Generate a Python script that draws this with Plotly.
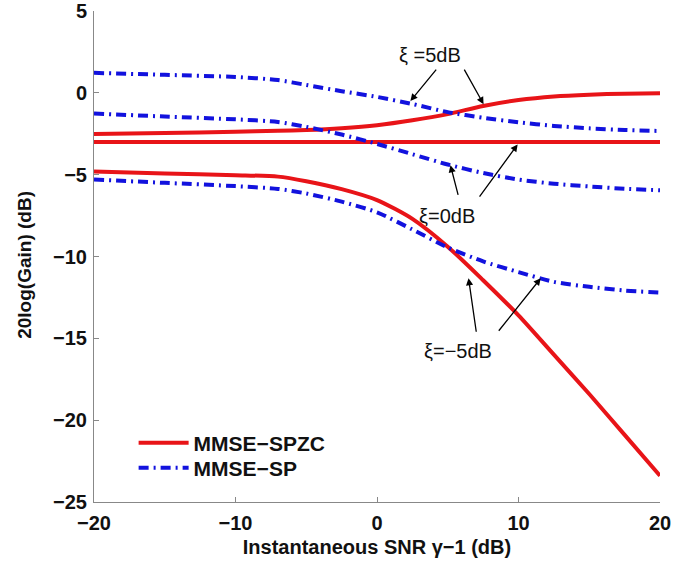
import plotly.graph_objects as go

# x grid (Instantaneous SNR gamma-1, dB)
snr_db = [-20, -15, -10, -7, -5, -2.5, 0, 2.5, 5, 7.5, 10, 12.5, 15, 17.5, 20]

# MMSE-SPZC gains (dB)
spzc_xi5 = [-2.52, -2.46, -2.38, -2.32, -2.27, -2.16, -1.98, -1.68, -1.3, -0.8, -0.44, -0.22, -0.11, -0.05, -0.03]
spzc_xi0 = [-3.0] * len(snr_db)
spzc_xim5 = [-4.8, -4.93, -5.03, -5.12, -5.4, -5.88, -6.55, -7.7, -9.4, -11.45, -13.6, -16.0, -18.4, -20.9, -23.4]

# MMSE-SP gains (dB)
sp_xi5 = [1.22, 1.1, 0.97, 0.78, 0.48, 0.1, -0.25, -0.68, -1.18, -1.52, -1.8, -2.02, -2.17, -2.27, -2.33]
sp_xi0 = [-1.26, -1.45, -1.62, -1.78, -2.08, -2.55, -3.12, -3.75, -4.38, -4.9, -5.3, -5.55, -5.72, -5.86, -5.95]
sp_xim5 = [-5.3, -5.5, -5.7, -5.87, -6.15, -6.65, -7.3, -8.35, -9.45, -10.3, -10.95, -11.55, -11.85, -12.08, -12.2]

x_ticks = [-20, -10, 0, 10, 20]
y_ticks = [5, 0, -5, -10, -15, -20, -25]

RED = "rgb(232,20,24)"
BLUE = "rgb(18,18,222)"
DASHDOT = "10px,5px,2px,5px"
FONT = "Liberation Sans, Arial, sans-serif"

fig = go.Figure()

red_sets = [spzc_xi5, spzc_xi0, spzc_xim5]
blue_sets = [sp_xi5, sp_xi0, sp_xim5]
for i, ys in enumerate(red_sets):
    fig.add_trace(go.Scatter(x=snr_db, y=ys, mode="lines",
                             line=dict(color=RED, width=4, shape="spline", smoothing=0.7),
                             name="MMSE−SPZC", legend="legend", showlegend=(i == 0)))
for i, ys in enumerate(blue_sets):
    fig.add_trace(go.Scatter(x=snr_db, y=ys, mode="lines",
                             line=dict(color=BLUE, width=4, dash=DASHDOT, shape="spline", smoothing=0.7),
                             name="MMSE−SP", legend="legend2", showlegend=(i == 0)))

# arrows: (head_x, head_y, tail_x, tail_y)
arrows = [
    (2.36, -0.5, 4.27, 1.51),
    (7.53, -0.69, 6.11, 1.51),
    (5.19, -4.42, 5.76, -6.33),
    (9.94, -3.15, 7.17, -6.44),
    (6.47, -11.33, 7.03, -14.69),
    (11.57, -11.33, 8.52, -14.63),
]
for hx, hy, tx, ty in arrows:
    fig.add_annotation(x=hx, y=hy, ax=tx, ay=ty, xref="x", yref="y", axref="x", ayref="y",
                       text="", showarrow=True, arrowhead=2, arrowsize=1.1, arrowwidth=1.3,
                       arrowcolor="black")

labels = [("ξ =5dB", 3.77, 2.3), ("ξ=0dB", 4.98, -7.5), ("ξ=−5dB", 5.69, -15.75)]
for txt, lx, ly in labels:
    fig.add_annotation(x=lx, y=ly, xref="x", yref="y", text=txt, showarrow=False,
                       font=dict(family=FONT, size=20, color="#111"))

# y-axis title as rotated annotation
fig.add_annotation(x=-0.122, y=0.483, xref="paper", yref="paper", text="<b>20log(Gain) (dB)</b>",
                   textangle=-90, showarrow=False, xanchor="center", yanchor="middle",
                   font=dict(family=FONT, size=19, color="#111"))

axis_common = dict(showline=True, linecolor="#888", linewidth=1, ticks="inside", ticklen=5,
                   tickcolor="#888", showgrid=False, zeroline=False, automargin=False,
                   tickfont=dict(family=FONT, size=20, color="#111", weight="bold"),
                   mirror=False)

fig.update_xaxes(range=[-20, 20], tickvals=x_ticks, ticklabelstandoff=3,
                 title=dict(text="<b>Instantaneous SNR γ−1 (dB)</b>", standoff=6,
                            font=dict(family=FONT, size=20, color="#111")),
                 **axis_common)
fig.update_yaxes(range=[-25, 5], tickvals=y_ticks, ticklabelstandoff=2, **axis_common)

leg_common = dict(xanchor="left", yanchor="middle", bgcolor="rgba(0,0,0,0)",
                  font=dict(family=FONT, size=21, color="#111", weight="bold"),
                  itemwidth=50)
fig.update_layout(
    width=688, height=568,
    margin=dict(l=94, r=28, t=11, b=66),
    plot_bgcolor="white", paper_bgcolor="white",
    legend=dict(x=0.07, y=0.12, **leg_common),
    legend2=dict(x=0.07, y=0.069, **leg_common),
    showlegend=True,
)

fig.write_html("out.html")
